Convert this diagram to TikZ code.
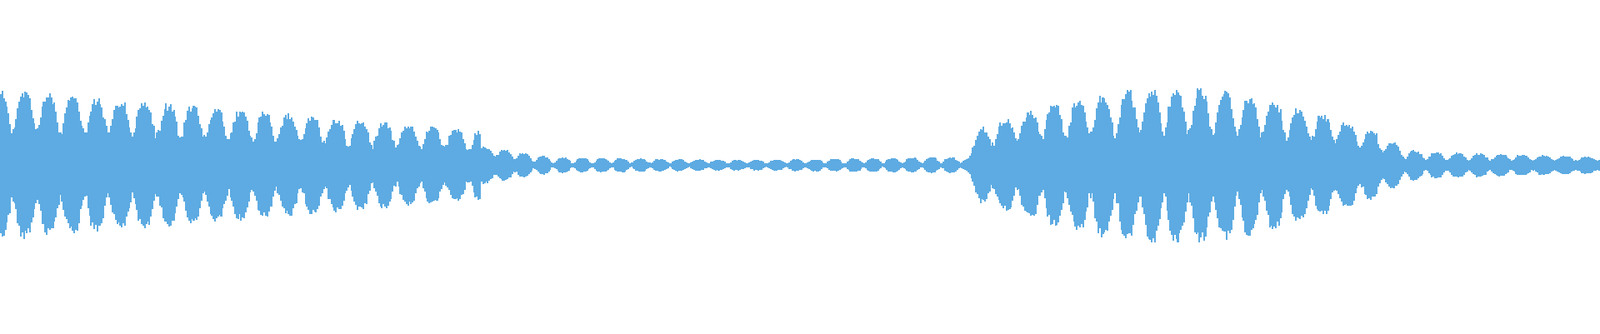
\documentclass[tikz,border=0pt]{standalone}
\usepackage{tikz}
\definecolor{waveblue}{HTML}{5DABE2}
\begin{document}
\begin{tikzpicture}[x=0.012245cm, y=0.012245cm]
\tikzset{%
	wave/.style = { fill=waveblue, draw=none }
}
\useasboundingbox (0,-164.7) rectangle (1568,162);

% waveform, one thin bar per step
\foreach \i in {0,1.5,...,1567}{
	\ifdim\i pt<470pt
		\pgfmathsetmacro\P{65-\i/470*35}\pgfmathsetmacro\T{30-\i/470*18}\def\L{23.5}
	\else\ifdim\i pt<945pt
		\pgfmathsetmacro\P{4.5+abs(\i-730)/240*3+9*max(0,1-(\i-470)/70)}
		\pgfmathsetmacro\T{1.5+8*max(0,1-(\i-470)/60)}\def\L{19}
	\else\ifdim\i pt<1350pt
		\pgfmathsetmacro\s{min(1,(\i-940)/20)}
		\pgfmathsetmacro\a{sin((\i-945)/405*180)}
		\pgfmathsetmacro\P{\s*(28+39*\a)}
		\pgfmathsetmacro\T{\s*(15+12*\a)}\def\L{24}
	\else
		\pgfmathsetmacro\P{13-(\i-1350)/218*6+12*max(0,1-(\i-1350)/40)}
		\pgfmathsetmacro\T{4+8*max(0,1-(\i-1350)/30)}\def\L{21}
	\fi\fi\fi
	\pgfmathsetmacro\c{0.5-0.5*cos(mod(\i,\L)/\L*360)}
	\pgfmathsetmacro\b{1-\c*\c}
	\pgfmathsetmacro\up{\T+(\P-\T)*\b+0.15*\P*rnd}
	\pgfmathsetmacro\dn{\T+(\P-\T)*\b+0.15*\P*rnd}
	\fill [wave] (\i,-\dn) rectangle (\i+1.7,\up);
}

\end{tikzpicture}
\end{document}
